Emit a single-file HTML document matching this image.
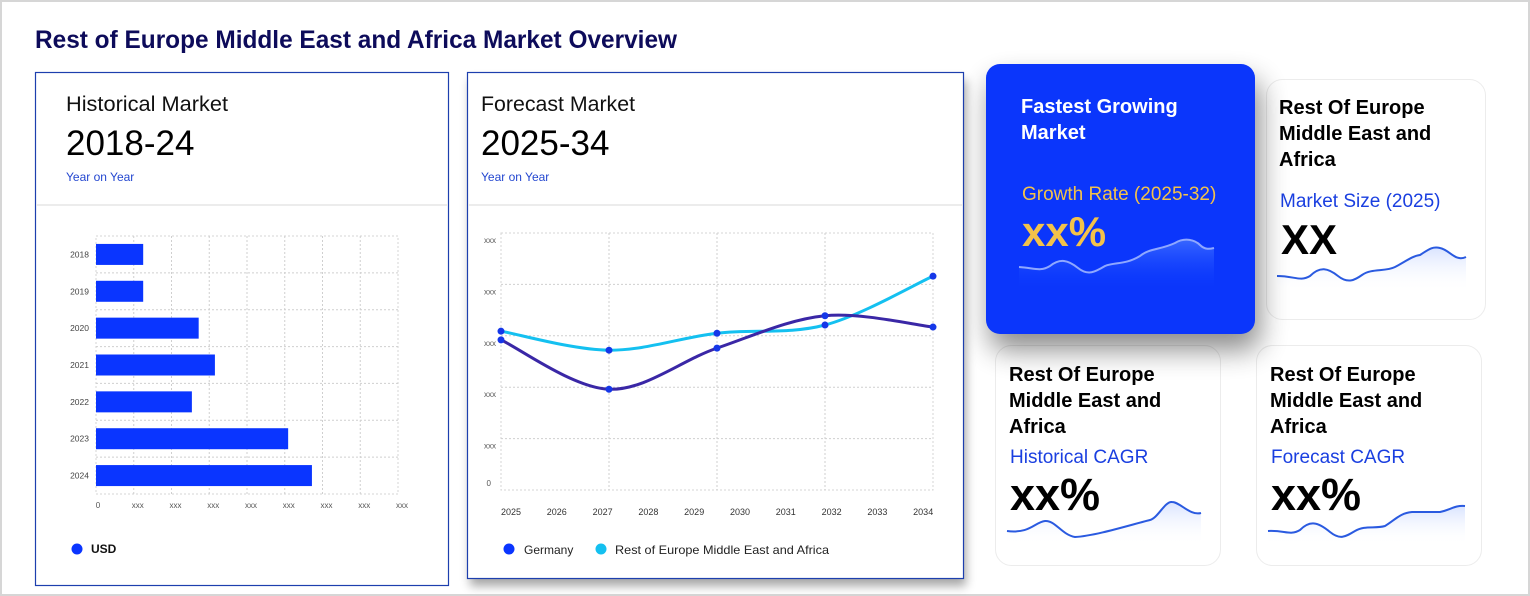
<!DOCTYPE html>
<html><head><meta charset="utf-8"><style>
html,body{margin:0;padding:0;background:#fff;}
svg{display:block;font-family:"Liberation Sans",sans-serif;}
</style></head><body>
<svg id="root" width="1530" height="596" viewBox="0 0 1530 596" xmlns="http://www.w3.org/2000/svg">
<defs>
<filter id="sh" x="-30%" y="-30%" width="160%" height="160%"><feGaussianBlur stdDeviation="14"/></filter>
<filter id="sh2" x="-10%" y="-10%" width="120%" height="130%"><feGaussianBlur stdDeviation="5"/></filter>
<linearGradient id="gw" x1="0" y1="0" x2="0" y2="1"><stop offset="0" stop-color="#3d6cff" stop-opacity="0.9"/><stop offset="1" stop-color="#0b3bff" stop-opacity="0"/></linearGradient>
<linearGradient id="gb" x1="0" y1="0" x2="0" y2="1"><stop offset="0" stop-color="#cfdcff" stop-opacity="0.8"/><stop offset="1" stop-color="#ffffff" stop-opacity="0"/></linearGradient>
</defs>
<rect x="1" y="1" width="1528" height="594" fill="#fff" stroke="#d6d6d6" stroke-width="2"/>
<text x="35" y="48" font-size="25" font-weight="bold" fill="#0d0b5a" textLength="642" lengthAdjust="spacingAndGlyphs">Rest of Europe Middle East and Africa Market Overview</text>

<!-- historical card -->
<g>
<rect x="35.5" y="72.5" width="413" height="513" fill="#fff" stroke="#1d3fae" stroke-width="1.2"/>
<text x="66" y="111" font-size="21" fill="#111" textLength="162" lengthAdjust="spacingAndGlyphs">Historical Market</text>
<text x="66" y="155" font-size="35" fill="#000">2018-24</text>
<text x="66" y="181" font-size="12" fill="#2447d0">Year on Year</text>
<line x1="36" y1="205" x2="448" y2="205" stroke="#ececec" stroke-width="2"/>
<g id="bars"></g>
<circle cx="77" cy="549" r="5.5" fill="#0a35ff"/>
<text x="91" y="553" font-size="12" font-weight="bold" fill="#111">USD</text>
</g>

<!-- forecast card -->
<rect x="470" y="80" width="496" height="506" fill="#000" opacity="0.35" filter="url(#sh2)"/>
<g>
<rect x="467.5" y="72.5" width="496" height="506" fill="#fff" stroke="#1d3fae" stroke-width="1.2"/>
<text x="481" y="111" font-size="21" fill="#111" textLength="154" lengthAdjust="spacingAndGlyphs">Forecast Market</text>
<text x="481" y="155" font-size="35" fill="#000">2025-34</text>
<text x="481" y="181" font-size="12" fill="#2447d0">Year on Year</text>
<line x1="468" y1="205" x2="963" y2="205" stroke="#ececec" stroke-width="2"/>
<g id="lines"></g>
<circle cx="509" cy="549" r="5.5" fill="#0a35ff"/>
<text x="524" y="554" font-size="12" fill="#222">Germany</text>
<circle cx="601" cy="549" r="5.5" fill="#14c0f0"/>
<text x="615" y="554" font-size="12" fill="#222" textLength="214" lengthAdjust="spacingAndGlyphs">Rest of Europe Middle East and Africa</text>
</g>

<!-- small cards -->
<g>
<rect x="995.5" y="345.5" width="225" height="220" rx="16" fill="#fff" stroke="#ececec"/>
<text font-size="20" font-weight="bold" fill="#000"><tspan x="1009" y="381">Rest Of Europe</tspan><tspan x="1009" y="407">Middle East and</tspan><tspan x="1009" y="433">Africa</tspan></text>
<text x="1010" y="463" font-size="19" fill="#1a3fe0">Historical CAGR</text>
<text x="1010" y="510" font-size="45" font-weight="bold" fill="#000">xx%</text>
<path d="M1007 531 C1030 534 1035 522 1045 521 C1055 520 1062 535 1075 537 C1095 536 1130 525 1150 520 C1158 518 1165 501 1172 502 C1180 502 1190 516 1201 513 L1201 545 L1007 545 Z" fill="url(#gb)"/>
<path d="M1007 531 C1030 534 1035 522 1045 521 C1055 520 1062 535 1075 537 C1095 536 1130 525 1150 520 C1158 518 1165 501 1172 502 C1180 502 1190 516 1201 513" fill="none" stroke="#2a5ae0" stroke-width="2"/>
</g>
<g>
<rect x="1256.5" y="345.5" width="225" height="220" rx="16" fill="#fff" stroke="#ececec"/>
<text font-size="20" font-weight="bold" fill="#000"><tspan x="1270" y="381">Rest Of Europe</tspan><tspan x="1270" y="407">Middle East and</tspan><tspan x="1270" y="433">Africa</tspan></text>
<text x="1271" y="463" font-size="19" fill="#1a3fe0">Forecast CAGR</text>
<text x="1271" y="510" font-size="45" font-weight="bold" fill="#000">xx%</text>
<path d="M1268 531 C1285 530 1290 536 1300 530 C1310 520 1318 522 1330 532 C1340 540 1345 537 1355 531 C1365 525 1375 529 1385 526 C1395 520 1400 513 1412 512 L1440 512 C1450 510 1455 505 1465 506 L1465 545 L1268 545 Z" fill="url(#gb)"/>
<path d="M1268 531 C1285 530 1290 536 1300 530 C1310 520 1318 522 1330 532 C1340 540 1345 537 1355 531 C1365 525 1375 529 1385 526 C1395 520 1400 513 1412 512 L1440 512 C1450 510 1455 505 1465 506" fill="none" stroke="#2a5ae0" stroke-width="2"/>
</g>
<g>
<rect x="1266.5" y="79.5" width="219" height="240" rx="16" fill="#fff" stroke="#ececec"/>
<text font-size="20" font-weight="bold" fill="#000"><tspan x="1279" y="114">Rest Of Europe</tspan><tspan x="1279" y="140">Middle East and</tspan><tspan x="1279" y="166">Africa</tspan></text>
<text x="1280" y="207" font-size="19" fill="#1a3fe0">Market Size (2025)</text>
<text x="1281" y="254" font-size="42" font-weight="bold" fill="#000">XX</text>
<path d="M1277 276 C1295 276 1300 282 1310 276 C1320 266 1328 268 1338 276 C1348 284 1355 280 1362 275 C1372 268 1385 272 1395 267 C1405 262 1412 256 1420 255 C1428 250 1432 246 1440 248 C1450 250 1455 262 1466 257 L1466 292 L1277 292 Z" fill="url(#gb)"/>
<path d="M1277 276 C1295 276 1300 282 1310 276 C1320 266 1328 268 1338 276 C1348 284 1355 280 1362 275 C1372 268 1385 272 1395 267 C1405 262 1412 256 1420 255 C1428 250 1432 246 1440 248 C1450 250 1455 262 1466 257" fill="none" stroke="#2a5ae0" stroke-width="2"/>
</g>
<rect x="990" y="80" width="270" height="270" rx="14" fill="#000" opacity="0.45" filter="url(#sh)"/>
<g>
<rect x="986" y="64" width="269" height="270" rx="14" fill="#0b36fb"/>
<text font-size="20" font-weight="bold" fill="#fff"><tspan x="1021" y="113">Fastest Growing</tspan><tspan x="1021" y="139">Market</tspan></text>
<text x="1022" y="200" font-size="19" fill="#f3c24a">Growth Rate (2025-32)</text>
<text x="1022" y="246" font-size="42" font-weight="bold" fill="#f3c24a">xx%</text>
<path d="M1019 267 C1035 268 1040 272 1050 266 C1060 258 1068 260 1078 268 C1088 276 1095 272 1105 266 C1115 262 1125 265 1140 256 C1150 248 1160 250 1175 243 C1185 237 1195 240 1200 245 C1205 250 1210 249 1214 248 L1214 290 L1019 290 Z" fill="url(#gw)"/>
<path d="M1019 267 C1035 268 1040 272 1050 266 C1060 258 1068 260 1078 268 C1088 276 1095 272 1105 266 C1115 262 1125 265 1140 256 C1150 248 1160 250 1175 243 C1185 237 1195 240 1200 245 C1205 250 1210 249 1214 248" fill="none" stroke="#8fa8ff" stroke-width="2"/>
</g>
</svg>
<script>
// ---- historical bar chart data ----
const barYears = ["2018","2019","2020","2021","2022","2023","2024"];
const barValues = [1.25, 1.25, 2.72, 3.15, 2.54, 5.09, 5.72];
const barTickLabels = ["0","xxx","xxx","xxx","xxx","xxx","xxx","xxx","xxx"];
// ---- forecast line chart data ----
const lineYears = ["2025","2026","2027","2028","2029","2030","2031","2032","2033","2034"];
const germanyValues = [2.92, 1.96, 2.76, 3.39, 3.17];
const restValues = [3.09, 2.72, 3.05, 3.21, 4.16];
const lineYTicks = ["0","xxx","xxx","xxx","xxx","xxx"];

const NS = "http://www.w3.org/2000/svg";
function mk(tag, attrs, parent){const e=document.createElementNS(NS,tag);for(const k in attrs)e.setAttribute(k,attrs[k]);parent.appendChild(e);return e;}

// bar chart
(function(){
  const g=document.getElementById('bars');
  const x0=96,x1=398,y0=236,y1=494,maxV=8;
  const xs=v=>x0+(x1-x0)*v/maxV;
  const band=(y1-y0)/barYears.length;
  mk('rect',{x:x0,y:y0,width:x1-x0,height:y1-y0,fill:'none',stroke:'#d4d4d4','stroke-dasharray':'2,2'},g);
  for(let i=1;i<maxV;i++){mk('line',{x1:xs(i),x2:xs(i),y1:y0,y2:y1,stroke:'#cfcfcf','stroke-dasharray':'2,2'},g);}
  for(let i=1;i<barYears.length;i++){mk('line',{x1:x0,x2:x1,y1:y0+band*i,y2:y0+band*i,stroke:'#cfcfcf','stroke-dasharray':'2,2'},g);}
  barTickLabels.forEach((t,i)=>{
    const el=mk('text',{x:i===0?xs(i)+2:xs(i)+4,y:508,'font-size':8,fill:'#555','text-anchor':'middle'},g);el.textContent=t;
    
    
  });
  barYears.forEach((yr,i)=>{
    const cy=y0+band*(i+0.5);
    const r=mk('rect',{x:x0,y:cy-10.5,width:xs(barValues[i])-x0,height:21,fill:'#0a35ff'},g);
    
    
    const t=mk('text',{x:89,y:cy+3,'font-size':8.5,fill:'#444','text-anchor':'end'},g);t.textContent=yr;
    
    
  });
})();

// line chart
(function(){
  const g=document.getElementById('lines');
  const x0=501,x1=933,y0=233,y1=490,maxV=5;
  const ys=v=>y1-(y1-y0)*v/maxV;
  const n=germanyValues.length;
  const xp=i=>x0+(x1-x0)*i/(n-1);
  mk('rect',{x:x0,y:y0,width:x1-x0,height:y1-y0,fill:'none',stroke:'#d4d4d4','stroke-dasharray':'2,2'},g);
  for(let i=1;i<maxV;i++){mk('line',{x1:x0,x2:x1,y1:ys(i),y2:ys(i),stroke:'#cfcfcf','stroke-dasharray':'2,2'},g);}
  for(let i=1;i<n-1;i++){mk('line',{x1:xp(i),x2:xp(i),y1:y0,y2:y1,stroke:'#cfcfcf','stroke-dasharray':'2,2'},g);}
  lineYTicks.forEach((t,i)=>{
    const el=mk('text',{x:i===0?491:496,y:i===0?486:ys(i)+10,'font-size':8,fill:'#555','text-anchor':'end'},g);
    el.textContent=t;
    
    
  });
  lineYears.forEach((yr,i)=>{
    const el=mk('text',{x:511+45.8*i,y:515,'font-size':9,fill:'#333','text-anchor':'middle'},g);el.textContent=yr;
    
    
  });
  function path(vals){
    const p=vals.map((v,i)=>[xp(i),ys(v)]);
    let d='M'+p[0][0]+' '+p[0][1];
    for(let i=0;i<p.length-1;i++){
      const a=p[i-1]||p[i],b=p[i],c=p[i+1],e=p[i+2]||c;
      const c1x=b[0]+(c[0]-a[0])/6,c1y=b[1]+(c[1]-a[1])/6;
      const c2x=c[0]-(e[0]-b[0])/6,c2y=c[1]-(e[1]-b[1])/6;
      d+=' C'+c1x+' '+c1y+' '+c2x+' '+c2y+' '+c[0]+' '+c[1];
    }
    return d;
  }
  const series=[[restValues,'#14c0f0','rest-of-europe-mea'],[germanyValues,'#3a27a6','germany']];
  series.forEach(([vals,col,nm])=>{
    const l=mk('path',{d:path(vals),fill:'none',stroke:col,'stroke-width':3},g);
    
    
  });
  series.forEach(([vals,col,nm])=>{
    vals.forEach((v,i)=>{
      const c=mk('circle',{cx:xp(i),cy:ys(v),r:3.5,fill:'#1537e8'},g);
      
      
    });
  });
})();
</script>
</body></html>
